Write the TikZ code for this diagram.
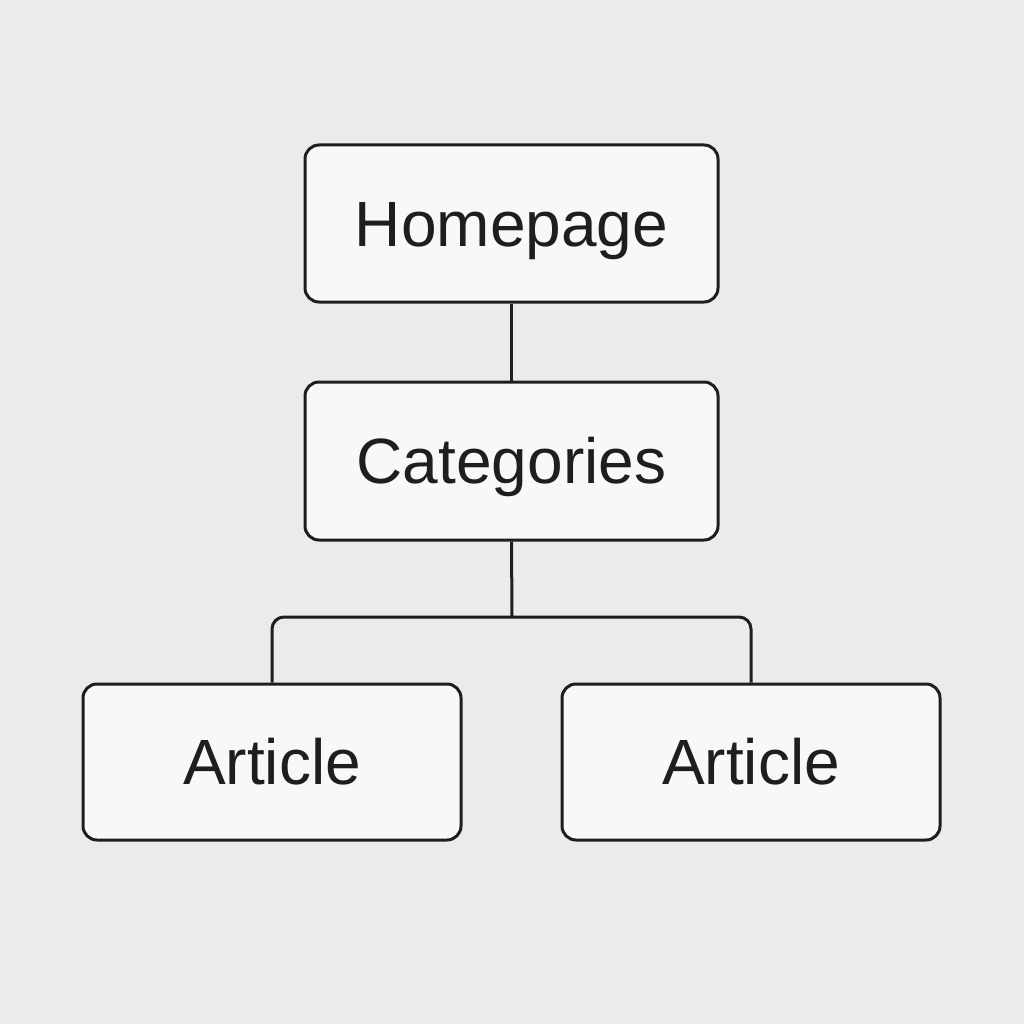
\documentclass[tikz,border=0pt]{standalone}
\usepackage{fontspec}
\setmainfont{Liberation Sans}
\definecolor{bg}{HTML}{EBEBEB}
\definecolor{boxfill}{HTML}{F8F8F8}
\definecolor{ink}{HTML}{1E1E1E}
\begin{document}
\begin{tikzpicture}[x=1pt,y=-1pt,
  card/.style={draw=ink, line width=3pt, fill=boxfill, rounded corners=14pt,
    minimum width=#1, inner sep=0pt, text height=45pt, text depth=0pt,
    font=\fontsize{64}{72}\selectfont, text=ink},
  link/.style={draw=ink, line width=3pt}]
\fill[bg] (0,0) rectangle (1024,1024);
\useasboundingbox (0,0) rectangle (1024,1024);
\node[card=413pt, minimum height=157pt] (home) at (511.5,223.5) {Homepage};
\node[card=413pt, minimum height=158pt] (cat) at (511.5,461) {Categories};
\node[card=378pt, minimum height=156pt] (a1) at (272,762) {Article};
\node[card=378pt, minimum height=156pt] (a2) at (751,762) {Article};
\coordinate (j) at (512,617);
\draw[link] (home.south) -- (cat.north);
\draw[link] (cat.south) -- (j);
\draw[link, rounded corners=12pt] (a1.north) -- (272,617) -- (751,617) -- (a2.north);
\end{tikzpicture}
\end{document}
